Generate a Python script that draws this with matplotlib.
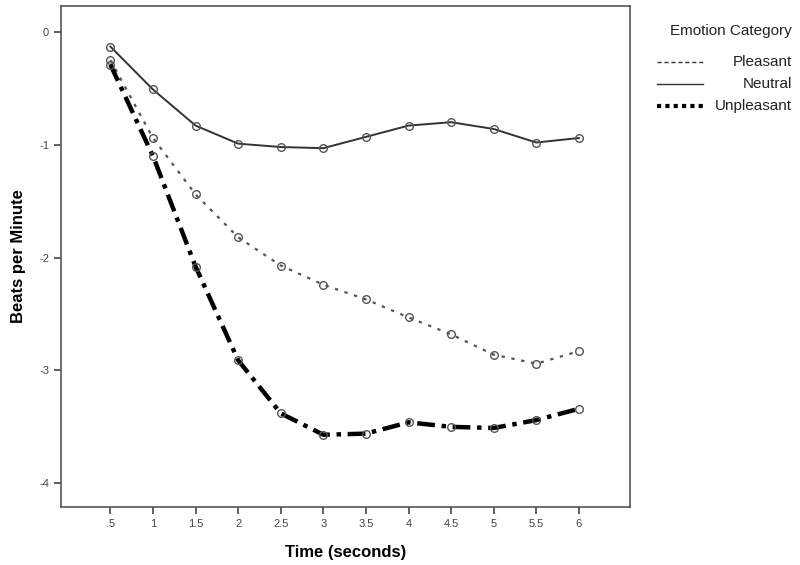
import matplotlib
matplotlib.use("Agg")
import matplotlib.pyplot as plt
from matplotlib.lines import Line2D

# data
time = [0.5, 1, 1.5, 2, 2.5, 3, 3.5, 4, 4.5, 5, 5.5, 6]
tick_labels = [".5", "1", "1.5", "2", "2.5", "3", "3.5", "4", "4.5", "5", "5.5", "6"]

pleasant = [-0.25, -0.94, -1.44, -1.82, -2.07, -2.24, -2.37, -2.53, -2.68, -2.86, -2.94, -2.83]
neutral = [-0.13, -0.51, -0.83, -0.99, -1.02, -1.03, -0.93, -0.83, -0.80, -0.86, -0.98, -0.94]
unpleasant = [-0.29, -1.10, -2.08, -2.91, -3.38, -3.57, -3.56, -3.46, -3.50, -3.51, -3.44, -3.34]

y_ticks = [0, -1, -2, -3, -4]

plt.rcParams["font.family"] = ["Liberation Sans", "DejaVu Sans"]

fig = plt.figure(figsize=(8, 5.65), dpi=100)
ax = fig.add_axes([0.07625, 0.1027, 0.7112, 0.8867])

mk = dict(marker="o", markersize=5.5, markerfacecolor="none",
          markeredgecolor="#555555", markeredgewidth=1.0)

ax.plot(time, neutral, linestyle="-", color="#333333", linewidth=1.4, **mk)
ax.plot(time, pleasant, linestyle=(0, (1.5, 3)), color="#555555", linewidth=1.6, **mk)
ax.plot(time, unpleasant, linestyle=(0, (4, 1.5, 1, 1.5)), color="black", linewidth=3.2, **mk)

ax.set_xlim(-0.08, 6.6)
ax.set_ylim(-4.21, 0.23)
ax.set_xticks(time)
ax.set_xticklabels(tick_labels)
ax.set_yticks(y_ticks)
ax.set_yticklabels([str(v) for v in y_ticks])

for s in ax.spines.values():
    s.set_color("#555555")
    s.set_linewidth(1.2)
ax.tick_params(axis="both", direction="out", length=5, width=1.2,
               color="#444444", labelsize=8, labelcolor="#444444")

ax.set_xlabel("Time (seconds)", fontsize=12, fontweight="bold")
ax.set_ylabel("Beats per Minute", fontsize=12, fontweight="bold")
ax.xaxis.set_label_coords(0.5, -0.075)
ax.yaxis.set_label_coords(-0.062, 0.5)

# legend, built by hand so labels are right aligned
fig.text(0.99, 1 - 31 / 565, "Emotion Category", ha="right", va="center",
         fontsize=11, color="#222222")
legend_rows = [
    ("Pleasant", dict(linestyle=(0, (3, 2)), color="#333333", linewidth=1.0), 62),
    ("Neutral", dict(linestyle="-", color="#333333", linewidth=1.0), 84),
    ("Unpleasant", dict(linestyle=(0, (1, 1)), color="black", linewidth=3.0), 106),
]
for label, style, ypx in legend_rows:
    yf = 1 - ypx / 565
    fig.add_artist(Line2D([657 / 800, 703 / 800], [yf, yf],
                          transform=fig.transFigure, **style))
    fig.text(0.99, yf, label, ha="right", va="center", fontsize=11, color="#222222")

fig.savefig("out.png", dpi=100)
